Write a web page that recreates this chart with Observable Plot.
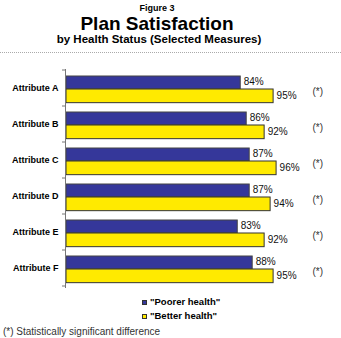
<!DOCTYPE html>
<html><head><meta charset="utf-8">
<script src="https://cdn.jsdelivr.net/npm/d3@7"></script>
<script src="https://cdn.jsdelivr.net/npm/@observablehq/plot@0.6"></script>
<style>
body{margin:0;background:#fff;font-family:Arial,"Liberation Sans",sans-serif;}
#wrap{position:relative;width:341px;height:338px;overflow:hidden;background:#fff;}
.t{position:absolute;left:0;width:314px;text-align:center;line-height:1;white-space:nowrap;color:#000;font-weight:bold;}
#fig{top:4.4px;font-size:9px;}
#title{top:15px;font-size:19px;line-height:0.9;}
#sub{top:33.5px;font-size:11.5px;width:318px;}
#sep{position:absolute;left:0;top:52px;width:341px;border-top:1px dotted #aaa;}
#chart{position:absolute;left:0;top:56px;}
.leg{position:absolute;left:142px;font-size:9.5px;font-weight:bold;line-height:1;white-space:nowrap;color:#000;}
.sw{display:inline-block;box-sizing:border-box;width:5px;height:5px;border:1px solid #333;margin-right:3px;vertical-align:0px;}
#foot{position:absolute;left:3px;top:326.5px;font-size:10px;line-height:1;color:#333;white-space:nowrap;}
</style></head><body><div id="wrap">
<div class="t" id="fig">Figure 3</div>
<div class="t" id="title">Plan Satisfaction</div>
<div class="t" id="sub">by Health Status (Selected Measures)</div>
<div id="sep"></div>
<div id="chart"></div>
<div id="legend"></div>
<div id="foot"></div>
</div>
<script>
const attributes = ["Attribute A","Attribute B","Attribute C","Attribute D","Attribute E","Attribute F"];
const poorer = [84, 86, 87, 87, 83, 88];
const better = [95, 92, 96, 94, 92, 95];
const significant = [true, true, true, true, true, true];
const seriesNames = ['"Poorer health"', '"Better health"'];
const seriesColors = ["#35379a", "#ffea00"];
const footnote = "(*) Statistically significant difference";
const sigMark = "(*)";

const xStart = 25.7, xEnd = 104;
const data = attributes.map((a, i) => ({attribute: a, poorer: poorer[i], better: better[i], sig: significant[i]}));
const bw = (236 - 13 - 5) / attributes.length;

const plot = Plot.plot({
  width: 341, height: 236,
  marginLeft: 66, marginRight: 41, marginTop: 13, marginBottom: 5,
  x: {domain: [xStart, xEnd], axis: null},
  y: {domain: attributes, padding: 0},
  style: {fontFamily: "Arial, 'Liberation Sans', sans-serif", fontSize: "10px", background: "white", overflow: "visible"},
  marks: [
    Plot.axisY({tickSize: 0, tickPadding: 8, fontWeight: "bold", fontSize: 9, fill: "#000", label: null}),
    Plot.barX(data, {y: "attribute", x1: () => xStart, x2: "poorer", fill: seriesColors[0], stroke: "#444", strokeWidth: 1, insetTop: 6, insetBottom: bw - 19}),
    Plot.barX(data, {y: "attribute", x1: () => xStart, x2: "better", fill: seriesColors[1], stroke: "#333", strokeWidth: 1, insetTop: 19, insetBottom: bw - 33}),
    Plot.text(data, {y: "attribute", x: "poorer", text: d => d.poorer + "%", dx: 3, dy: -6.5, textAnchor: "start", fill: "#111", fontSize: 10}),
    Plot.text(data, {y: "attribute", x: "better", text: d => d.better + "%", dx: 3, dy: 7, textAnchor: "start", fill: "#111", fontSize: 10}),
    Plot.text(data.filter(d => d.sig), {y: "attribute", frameAnchor: "right", text: () => sigMark, dx: 12, dy: 3, textAnchor: "start", fill: "#333", fontSize: 10}),
    Plot.frame({anchor: "left", stroke: "#777", dx: -1})
  ]
});

// tick marks at group boundaries
const ys = plot.scale("y");
const svg = d3.select(plot);
const bounds = attributes.map(a => ys.apply(a)).concat([ys.apply(attributes[attributes.length - 1]) + ys.bandwidth]);
svg.append("g").attr("stroke", "#777").selectAll("line").data(bounds).join("line")
  .attr("x1", 62).attr("x2", 65).attr("y1", d => d).attr("y2", d => d);

document.getElementById("chart").appendChild(plot);

// legend
const legend = document.getElementById("legend");
seriesNames.forEach((name, i) => {
  const div = document.createElement("div");
  div.className = "leg";
  div.style.top = (297 + i * 14) + "px";
  const sw = document.createElement("span");
  sw.className = "sw";
  sw.style.background = seriesColors[i];
  div.appendChild(sw);
  div.appendChild(document.createTextNode(name));
  legend.appendChild(div);
});
document.getElementById("foot").textContent = footnote;
</script>
</body></html>
